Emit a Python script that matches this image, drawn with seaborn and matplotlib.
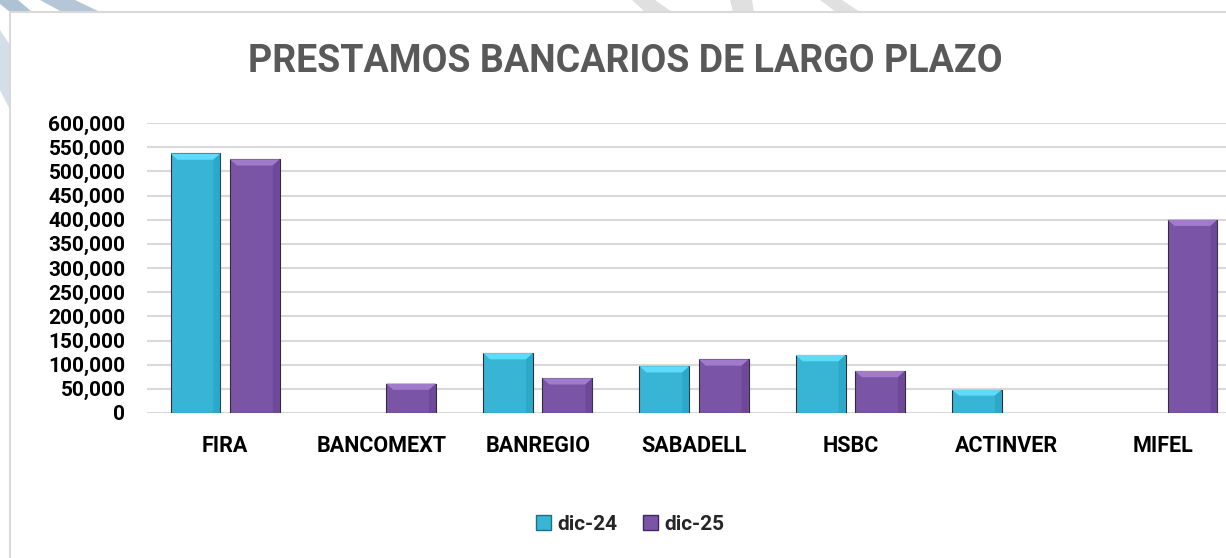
import matplotlib
matplotlib.use("Agg")
import matplotlib.pyplot as plt
from matplotlib.patches import Polygon, Rectangle, Patch
from matplotlib.ticker import FuncFormatter
import seaborn as sns
import pandas as pd

categories = ["FIRA", "BANCOMEXT", "BANREGIO", "SABADELL", "HSBC", "ACTINVER", "MIFEL"]
series_names = ["dic-24", "dic-25"]
dic24 = [537000, 0, 124000, 97000, 120000, 48000, 0]
dic25 = [525000, 61000, 72000, 111000, 87000, 0, 400000]
yticks = [0, 50000, 100000, 150000, 200000, 250000, 300000, 350000, 400000, 450000, 500000, 550000, 600000]
title = "PRESTAMOS BANCARIOS DE LARGO PLAZO"

df = pd.DataFrame({
    "Banco": categories * 2,
    "Periodo": [series_names[0]] * len(categories) + [series_names[1]] * len(categories),
    "Monto": dic24 + dic25,
})

sns.set_theme(style="white")
plt.rcParams["font.family"] = ["Roboto", "DejaVu Sans"]

W, H = 1226, 558
fig = plt.figure(figsize=(W / 100, H / 100), dpi=100)
fig.patch.set_facecolor("white")

def fpoly(pts, color, alpha=1.0, z=0):
    fig.patches.append(Polygon([(x / W, 1 - y / H) for x, y in pts], closed=True,
                               transform=fig.transFigure, facecolor=color,
                               edgecolor="none", alpha=alpha, zorder=z))

# faint watermark stripes behind the chart frame
fpoly([(0, 0), (18, 0), (32, 12), (10, 12), (0, 4)], "#AFC2D4")
fpoly([(40, 0), (75, 0), (100, 12), (62, 12)], "#B4C6D8")
fpoly([(0, 30), (10, 45), (10, 110), (0, 90)], "#D3DEE8")
fpoly([(632, 0), (655, 0), (672, 12), (645, 12)], "#E0E0E0")
fpoly([(730, 0), (752, 0), (754, 12), (733, 12)], "#E0E0E0")
fpoly([(820, 0), (842, 0), (860, 12), (836, 12)], "#E0E0E0")

# chart frame
fig.patches.append(Rectangle((10 / W, -0.05), 1.2, 1.05 - 12 / H, transform=fig.transFigure,
                             facecolor="white", edgecolor="#D9D9D9", linewidth=1.5, zorder=1))

ax = fig.add_axes([147 / W, 145 / H, 1094 / W, 290 / H])
ax.set_zorder(2)
ax.patch.set_alpha(0)

palette = {"dic-24": "#38B4D4", "dic-25": "#7A55A6"}
edges = {"dic-24": "#1D6F86", "dic-25": "#3F2862"}
sns.barplot(data=df, x="Banco", y="Monto", hue="Periodo", palette=palette, saturation=1,
            width=0.76, gap=0.16, ax=ax, legend=False, zorder=3,
            edgecolor="#2E2E3A", linewidth=0.8)

# bevel highlight on each bar, derived from the patch geometry
for patch in list(ax.patches):
    h = patch.get_height()
    if h <= 0:
        patch.set_visible(False)
        continue
    fc = patch.get_facecolor()
    x0, w = patch.get_x(), patch.get_width()
    bh = min(13000, h * 0.25)
    light = tuple(min(1, c + 0.15) for c in fc[:3])
    dark = tuple(max(0, c - 0.08) for c in fc[:3])
    ax.add_patch(Polygon([(x0, h), (x0 + w, h), (x0 + w * 0.86, h - bh), (x0 + w * 0.14, h - bh)],
                         closed=True, facecolor=light, edgecolor="none", zorder=4))
    ax.add_patch(Polygon([(x0 + w * 0.86, 0), (x0 + w, 0), (x0 + w, h), (x0 + w * 0.86, h - bh)],
                         closed=True, facecolor=dark, edgecolor="none", zorder=4, alpha=0.6))

ax.set_ylim(0, 600000)
ax.set_xlim(-0.5, len(categories) - 0.5)
ax.set_yticks(yticks)
ax.yaxis.set_major_formatter(FuncFormatter(lambda v, p: f"{int(v):,}"))
ax.grid(axis="y", color="#D9D9D9", linewidth=1.5, zorder=0)
ax.set_axisbelow(True)
for s in ax.spines.values():
    s.set_visible(False)
ax.tick_params(axis="y", length=0, labelsize=15, pad=15.5)
ax.tick_params(axis="x", length=0, labelsize=15.5, pad=16)
for lab in ax.get_xticklabels() + ax.get_yticklabels():
    lab.set_fontweight("bold")
    lab.set_color("#000000")
ax.set_xlabel("")
ax.set_ylabel("")

fig.text(625 / W, 1 - 61 / H, title, ha="center", va="center", fontsize=27,
         fontweight="bold", color="#595959", zorder=5)

handles = [Patch(facecolor=palette[s], edgecolor=edges[s], label=s) for s in series_names]
fig.legend(handles=handles, loc="center", bbox_to_anchor=(630 / W, 1 - 524 / H), ncol=2,
           frameon=False, handlelength=0.75, handleheight=0.75, handletextpad=0.3,
           columnspacing=1.2, prop={"weight": "bold", "size": 15})

fig.savefig("out.png", dpi=100)
